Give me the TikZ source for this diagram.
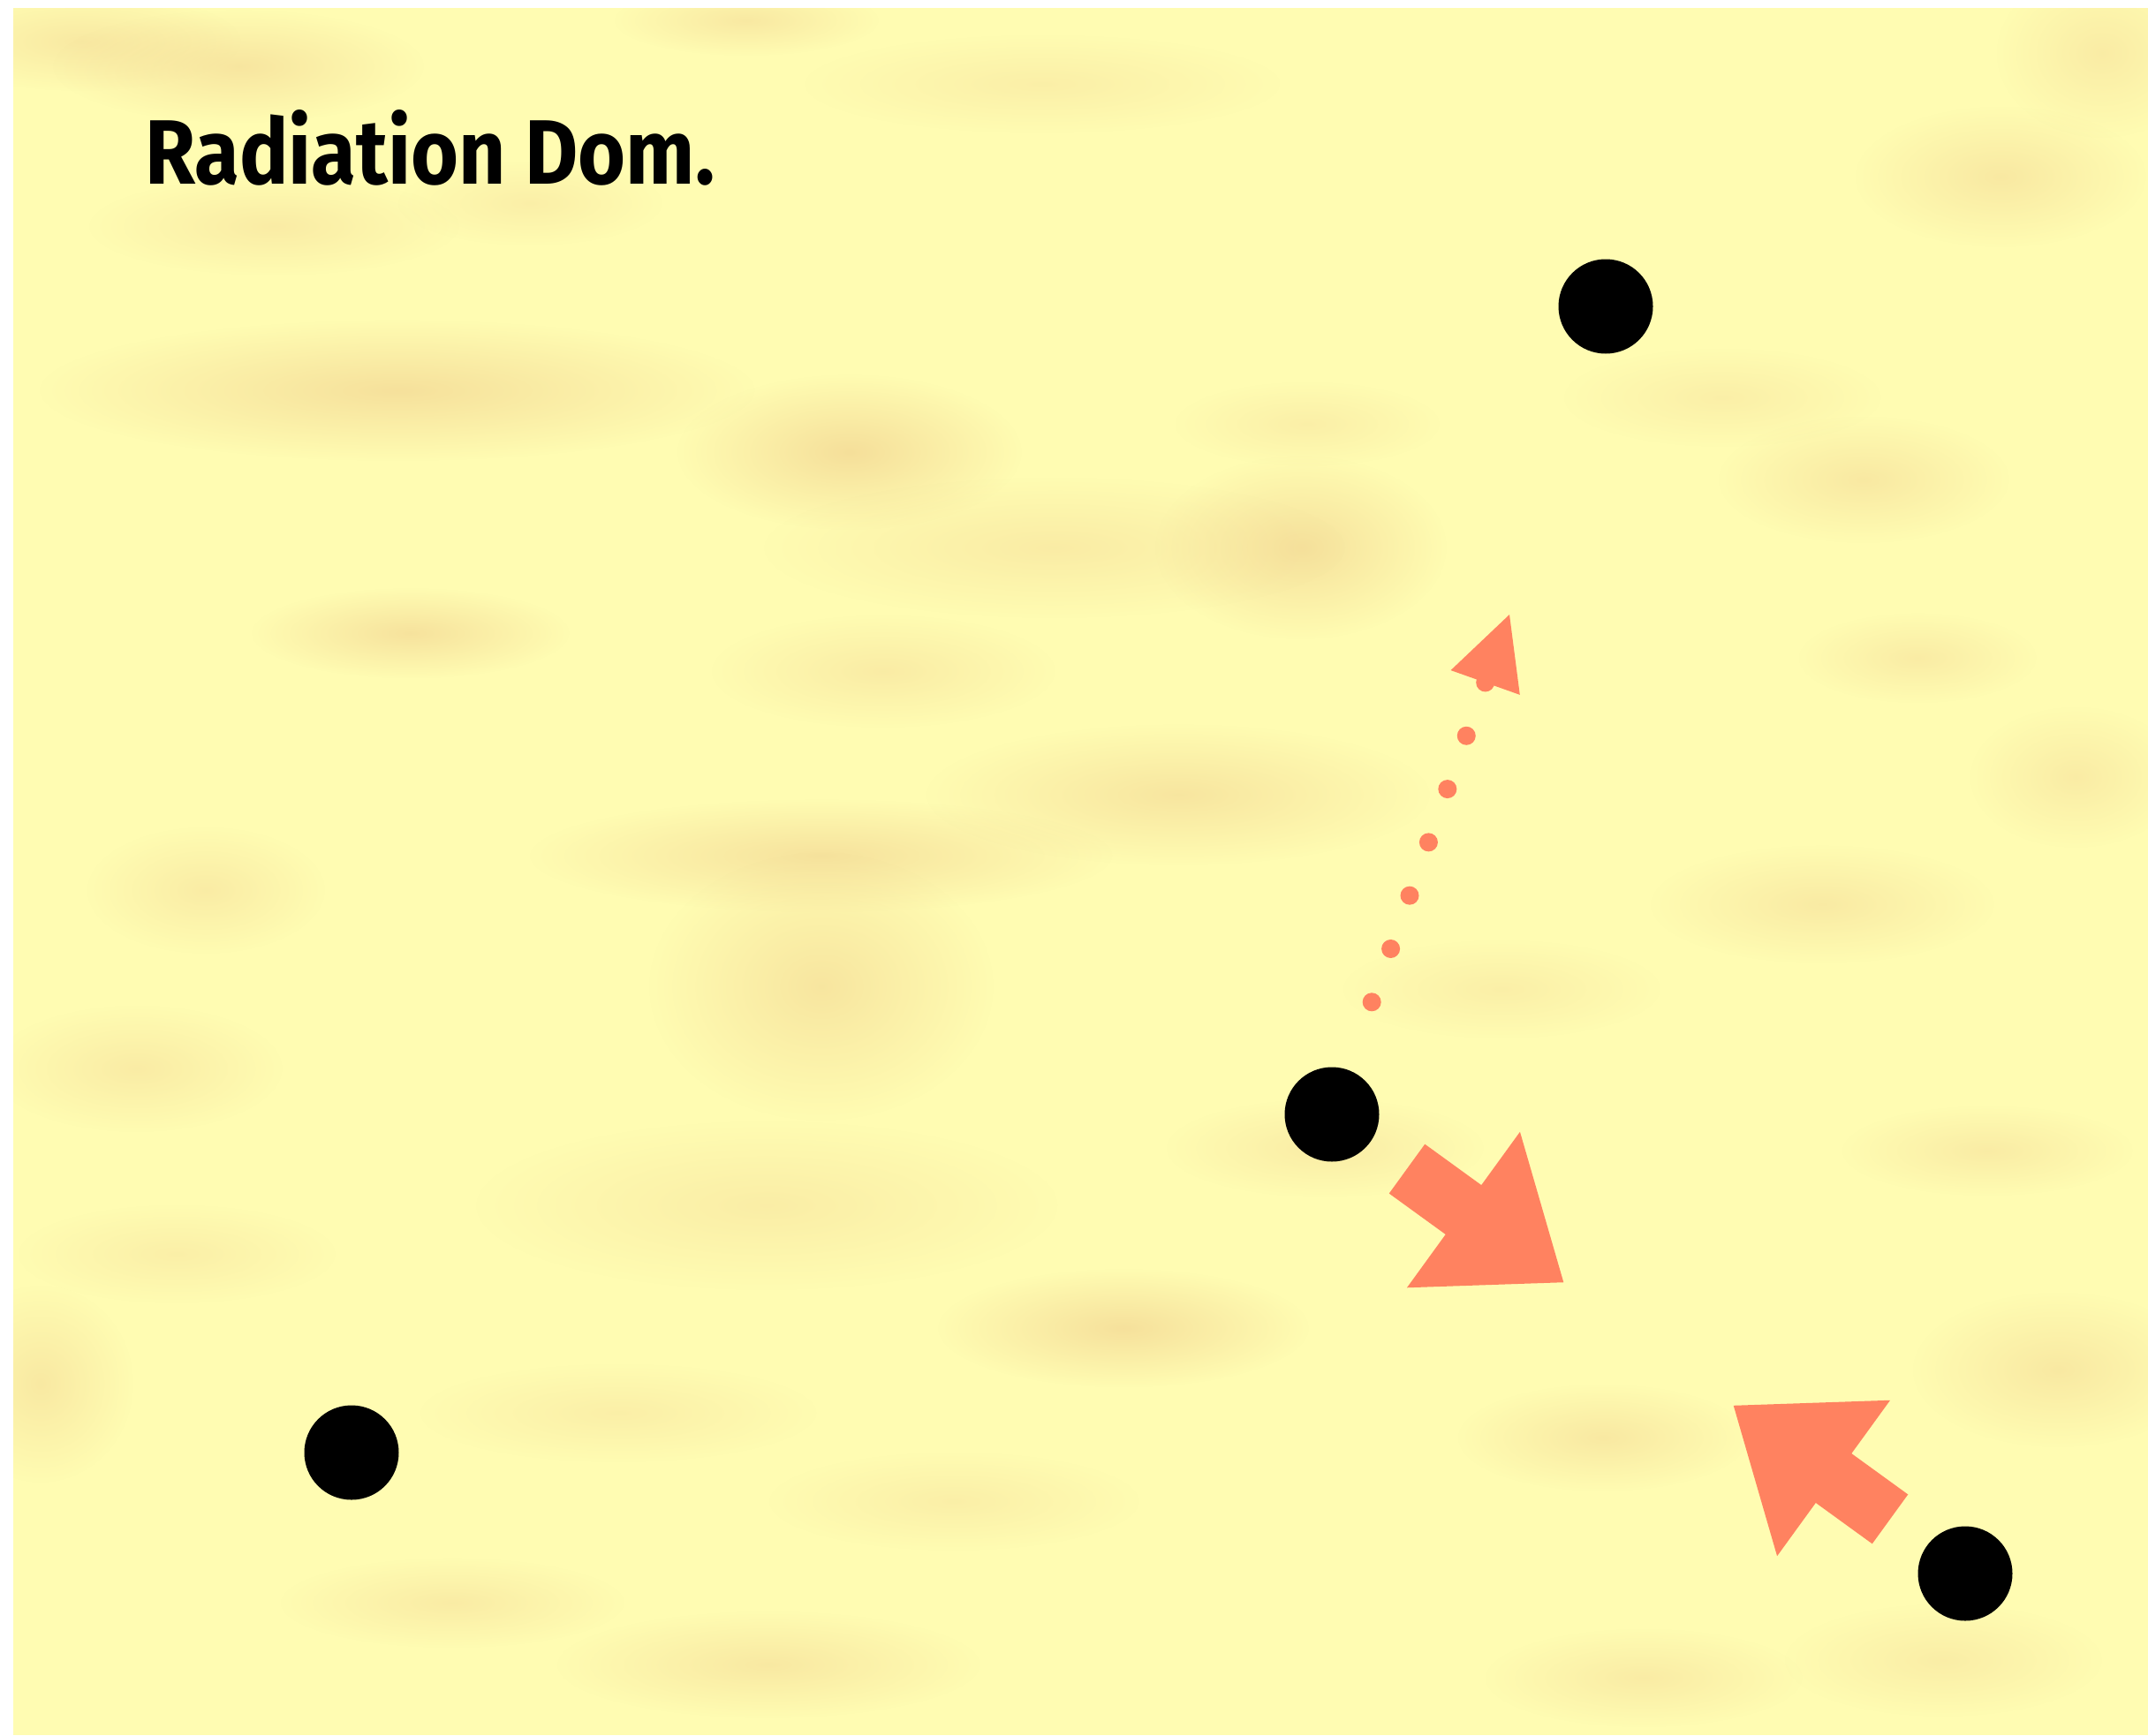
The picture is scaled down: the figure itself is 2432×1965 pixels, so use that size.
\documentclass[tikz,border=0pt]{standalone}
\usepackage{fontspec}
\setmainfont{Fira Sans}
\newfontfamily\titlefont{Fira Sans}[UprightFont=* Bold]
\usetikzlibrary{calc,fadings}
\definecolor{bgyellow}{RGB}{255,252,178}
\definecolor{bgtan}{RGB}{242,212,145}
\definecolor{salmon}{RGB}{255,130,96}
\tikzfading[name=blobfade, inner color=transparent!0, outer color=transparent!100]
\tikzset{
  dot/.style={circle, fill=black, inner sep=0pt, minimum size=107pt},
  blob/.style={fill=bgtan, path fading=blobfade, fill opacity=#1},
  blob/.default=0.75,
  fatarrow/.style={fill=salmon},
}
\begin{document}
\begin{tikzpicture}[x=1pt,y=-1pt]
\useasboundingbox (0,0) rectangle (2432,1965);
\fill[bgyellow] (15,9) rectangle (2432,1965);
\begin{scope}
\clip (15,9) rectangle (2432,1965);
\foreach \cx/\cy/\rx/\ry/\op in {
  93/47/120/35/0.6, 270/75/140/40/0.7, 845/23/100/25/0.6, 1180/95/180/35/0.4,
  2265/200/110/50/0.6, 310/256/140/35/0.5, 450/442/270/50/0.85, 962/512/130/55/0.9,
  1473/620/110/65/0.85, 1194/620/220/50/0.5, 465/717/120/32/0.8, 2110/543/110/45/0.6,
  2171/745/90/32/0.5, 930/969/220/40/0.8, 1334/900/190/50/0.7, 233/1008/90/45/0.5,
  155/1210/110/45/0.5, 930/1117/130/95/0.7, 868/1365/220/60/0.45, 1272/1504/140/42/0.85,
  1815/1628/110/38/0.6, 46/1567/70/70/0.6, 512/1815/130/32/0.5, 870/1885/160/38/0.6,
  2250/1303/110/32/0.5, 2063/1024/130/42/0.55, 2330/1551/110/55/0.6, 1861/1900/120/35/0.5,
  700/1600/150/35/0.4, 1500/1300/120/35/0.5, 1700/1120/120/35/0.4, 2380/60/80/60/0.5,
  1950/450/120/35/0.4, 600/230/100/30/0.4, 1000/760/130/40/0.5, 1480/480/100/30/0.4,
  2350/880/80/50/0.5, 200/1420/120/35/0.4, 1080/1700/140/35/0.4, 2200/1880/120/40/0.45}
  {\fill[blob=\op*0.8] (\cx,\cy) ellipse [x radius=1.5*\rx, y radius=1.6*\ry];}
\end{scope}

\node[anchor=base west, inner sep=0pt] (title) at (164,208)
  {\resizebox{645pt}{84pt}{\titlefont Radiation Dom.}};

\node[dot] (top) at (1818,347) {};
\node[dot] (mid) at (1508,1262) {};
\node[dot] (bl) at (398,1645) {};
\node[dot] (br) at (2225,1782) {};

% fat arrow from mid toward br
\coordinate (a1s) at ($(mid)!105pt!(br)$);
\coordinate (a1b) at ($(mid)!184pt!(br)$);
\coordinate (a1t) at ($(mid)!324pt!(br)$);
\fill[fatarrow] ($(a1s)!34.5pt!90:(br)$) -- ($(a1b)!34.5pt!90:(br)$) -- ($(a1b)!109pt!90:(br)$)
  -- (a1t) -- ($(a1b)!109pt!-90:(br)$) -- ($(a1b)!34.5pt!-90:(br)$) -- ($(a1s)!34.5pt!-90:(br)$) -- cycle;

% fat arrow from br toward mid
\coordinate (a2s) at ($(br)!105pt!(mid)$);
\coordinate (a2b) at ($(br)!184pt!(mid)$);
\coordinate (a2t) at ($(br)!324pt!(mid)$);
\fill[fatarrow] ($(a2s)!34.5pt!90:(mid)$) -- ($(a2b)!34.5pt!90:(mid)$) -- ($(a2b)!109pt!90:(mid)$)
  -- (a2t) -- ($(a2b)!109pt!-90:(mid)$) -- ($(a2b)!34.5pt!-90:(mid)$) -- ($(a2s)!34.5pt!-90:(mid)$) -- cycle;

% dotted arrow from mid upward
\coordinate (dtip) at (1709,696);
\coordinate (d0) at ($(mid)!135pt!(dtip)$);
\coordinate (dhb) at ($(d0)!384pt!(dtip)$);
\foreach \i in {0,...,6}
  {\fill[salmon] ($(d0)!\i*64pt!(dtip)$) circle (10.5);}
\fill[salmon] ($(dhb)!41.5pt!90:(dtip)$) -- (dtip) -- ($(dhb)!41.5pt!-90:(dtip)$) -- cycle;
\end{tikzpicture}
\end{document}
